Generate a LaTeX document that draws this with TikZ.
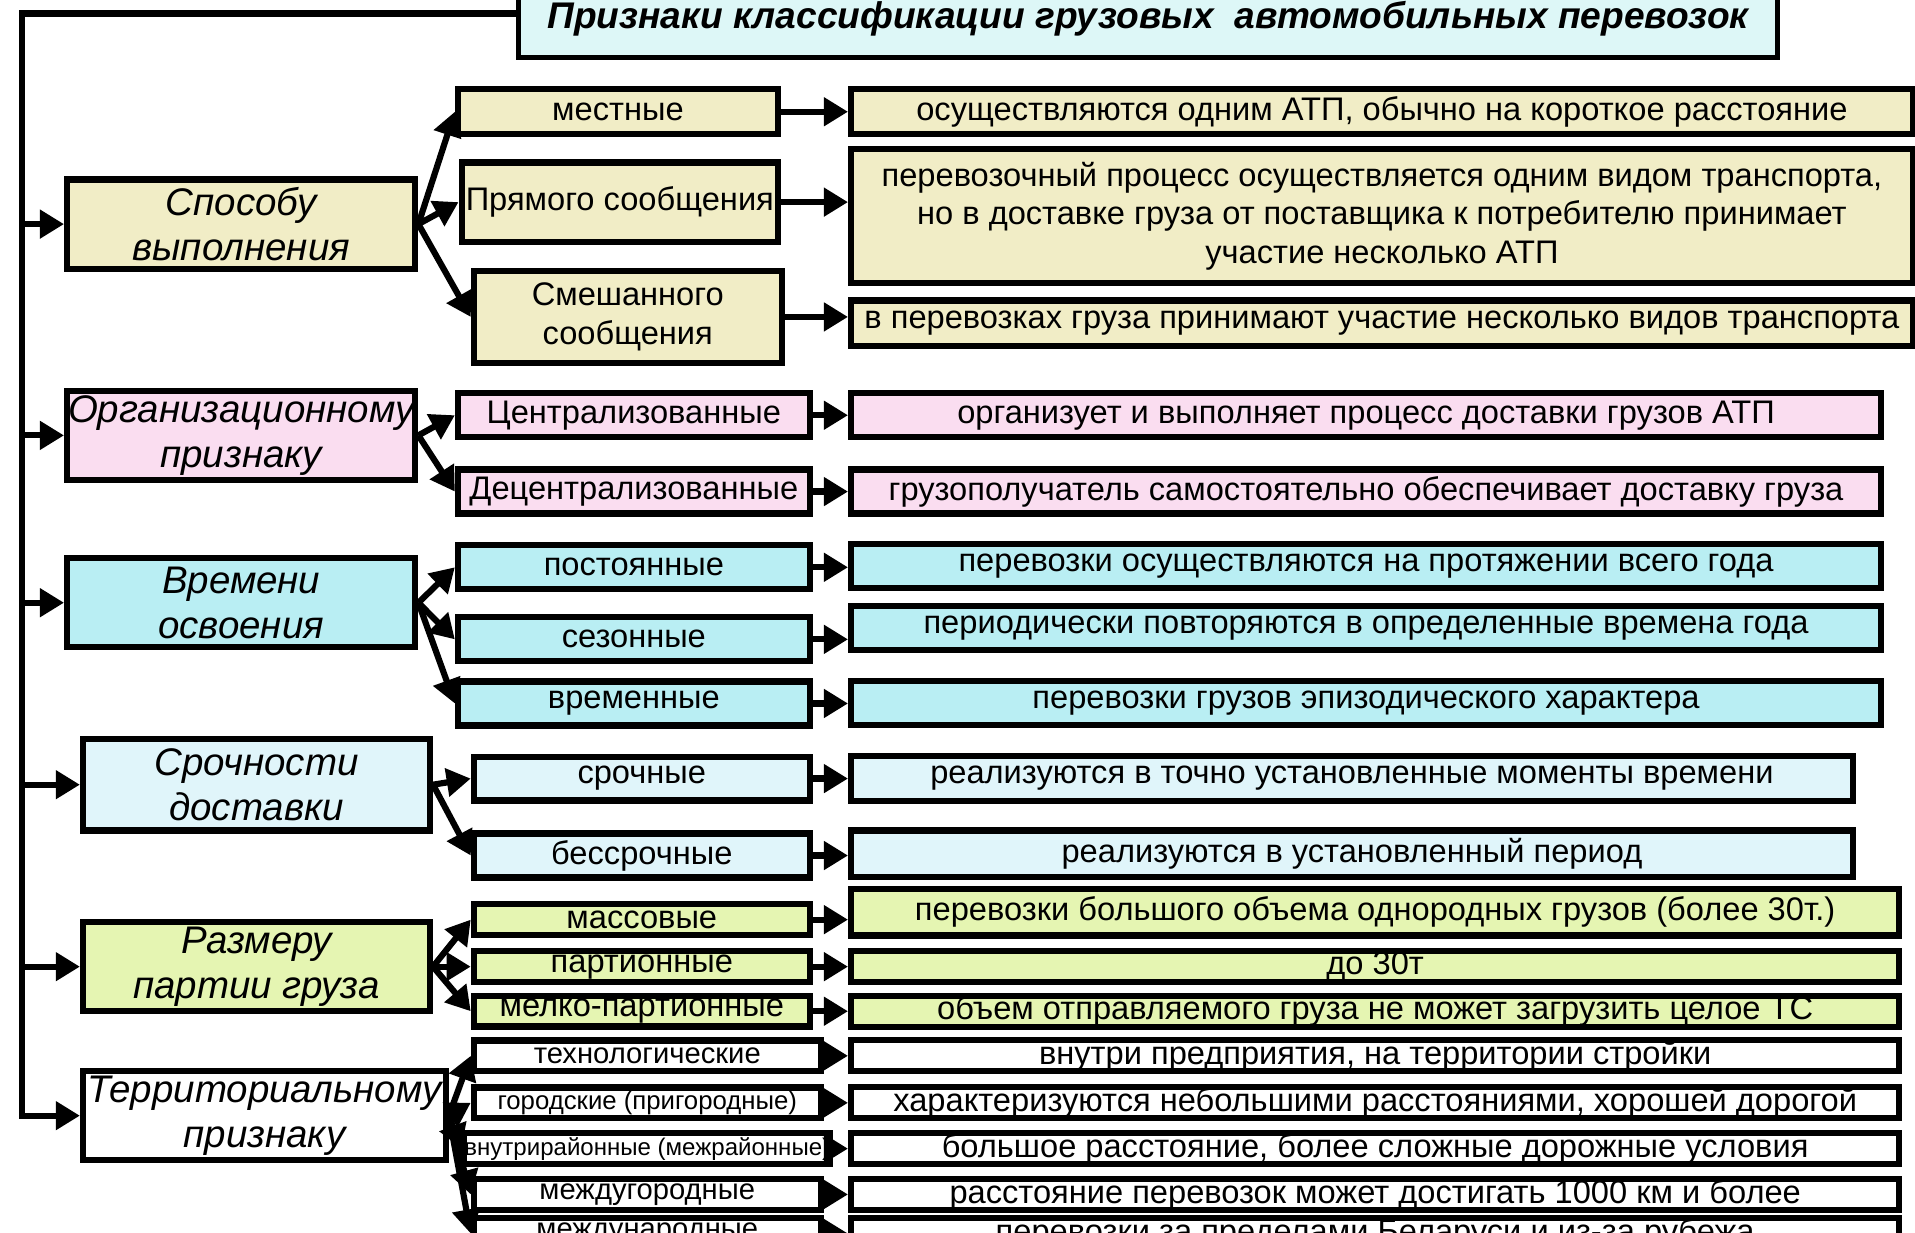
\documentclass[tikz,border=0pt]{standalone}
\usepackage{fontspec}
\setmainfont{Liberation Sans}
\usepackage{xcolor}
\usetikzlibrary{arrows.meta}

\definecolor{beige}{HTML}{F1EDC6}
\definecolor{pinkish}{HTML}{FADDF0}
\definecolor{cyanish}{HTML}{B9EEF3}
\definecolor{palecyan}{HTML}{E0F5FA}
\definecolor{lime}{HTML}{E5F5B2}
\definecolor{titlecyan}{HTML}{DDF7F7}

\begin{document}
\begin{tikzpicture}[x=0.0125cm, y=-0.0125cm,
  box/.style={draw, line width=1.8pt, inner sep=0pt, align=center, font=\fontsize{9.5}{11.2}\selectfont},
  catbox/.style={box, minimum width=3.5625cm, minimum height=0.9125cm, font=\fontsize{11.2}{13}\selectfont\itshape},
  subbox/.style={box, minimum height=0.45cm},
  thinbox/.style={box, minimum height=0.3125cm},
  arr/.style={line width=1.8pt, -{Triangle[length=7pt,width=8pt]}}]
  \path[use as bounding box, clip] (0,0) rectangle (1568,1009);

  \node[box, line width=1.5pt, fill=titlecyan, minimum width=12.875cm, minimum height=0.8cm, font=\fontsize{10.8}{12}\selectfont\bfseries\itshape] (title) at (940,15) {Признаки классификации грузовых\ \ автомобильных перевозок};
  \coordinate (bus) at (18,11);

  \node[catbox, fill=beige] (c1) at (197.5,183.5) {Способу\\выполнения};
  \node[catbox, fill=pinkish] (c2) at (197.5,356.5) {Организационному\\признаку};
  \node[catbox, fill=cyanish] (c3) at (197.5,493.5) {Времени\\освоения};
  \node[catbox, fill=palecyan, minimum width=3.55cm, minimum height=0.9375cm] (c4) at (210,642.5) {Срочности\\доставки};
  \node[catbox, fill=lime, minimum width=3.55cm] (c5) at (210,791.5) {Размеру\\партии груза};
  \node[catbox, fill=white, minimum width=3.7125cm] (c6) at (216.5,913.5) {Территориальному\\признаку};

  \node[subbox, fill=beige, minimum width=3.275cm, minimum height=0.4625cm] (s11) at (506,91.5) {местные};
  \node[subbox, fill=beige, minimum width=3.2375cm, minimum height=0.8125cm] (s12) at (507.5,165.5) {Прямого сообщения};
  \node[subbox, fill=beige, minimum width=3.15cm, minimum height=0.9375cm] (s13) at (514,259.5) {Смешанного\\сообщения};
  \node[subbox, fill=pinkish, minimum width=3.6cm] (s21) at (519,340) {Централизованные};
  \node[subbox, fill=pinkish, minimum width=3.6cm] (s22) at (519,402.5) {Децентрализованные};
  \node[subbox, fill=cyanish, minimum width=3.6cm] (s31) at (519,464.5) {постоянные};
  \node[subbox, fill=cyanish, minimum width=3.6cm] (s32) at (519,523.5) {сезонные};
  \node[subbox, fill=cyanish, minimum width=3.6cm] (s33) at (519,576) {временные};
  \node[subbox, fill=palecyan, minimum width=3.4375cm] (s41) at (525.5,637.5) {срочные};
  \node[subbox, fill=palecyan, minimum width=3.4375cm] (s42) at (525.5,700.5) {бессрочные};
  \node[thinbox, fill=lime, minimum width=3.4375cm] (s51) at (525.5,753) {массовые};
  \node[thinbox, fill=lime, minimum width=3.4375cm] (s52) at (525.5,791.5) {партионные};
  \node[thinbox, fill=lime, minimum width=3.4375cm] (s53) at (525.5,828) {мелко-партионные};
  \node[thinbox, fill=white, minimum width=3.55cm, font=\fontsize{8.5}{9}\selectfont] (s61) at (530,864.5) {технологические};
  \node[thinbox, fill=white, minimum width=3.55cm, font=\fontsize{7.5}{8}\selectfont] (s62) at (530,903) {городские (пригородные)};
  \node[thinbox, fill=white, minimum width=3.55cm, font=\fontsize{7}{8}\selectfont] (s63) at (530,940.5) {внутрирайонные (межрайонные)};
  \node[thinbox, fill=white, minimum width=3.55cm, font=\fontsize{8.5}{9}\selectfont] (s64) at (530,978) {междугородные};
  \node[thinbox, fill=white, minimum width=3.55cm, font=\fontsize{8.5}{9}\selectfont] (s65) at (530,1010) {международные};

  \node[subbox, fill=beige, minimum width=10.8625cm, minimum height=0.4625cm] (d11) at (1131.5,91.5) {осуществляются одним АТП, обычно на короткое расстояние};
  \node[subbox, fill=beige, minimum width=10.8625cm, minimum height=1.375cm] (d12) at (1131.5,177) {перевозочный процесс осуществляется одним видом транспорта,\\но в доставке груза от поставщика к потребителю принимает\\участие несколько АТП};
  \node[subbox, fill=beige, minimum width=10.8625cm, minimum height=0.4625cm] (d13) at (1131.5,264.5) {в перевозках груза принимают участие несколько видов транспорта};
  \node[subbox, fill=pinkish, minimum width=10.5375cm] (d21) at (1118.5,340) {организует и выполняет процесс доставки грузов АТП};
  \node[subbox, fill=pinkish, minimum width=10.5375cm] (d22) at (1118.5,402.5) {грузополучатель самостоятельно обеспечивает доставку груза};
  \node[subbox, fill=cyanish, minimum width=10.5375cm] (d31) at (1118.5,463.5) {перевозки осуществляются на протяжении всего года};
  \node[subbox, fill=cyanish, minimum width=10.5375cm] (d32) at (1118.5,514) {периодически повторяются в определенные времена года};
  \node[subbox, fill=cyanish, minimum width=10.5375cm] (d33) at (1118.5,575.5) {перевозки грузов эпизодического характера};
  \node[subbox, fill=palecyan, minimum width=10.25cm, minimum height=0.4625cm] (d41) at (1107,637.5) {реализуются в точно установленные моменты времени};
  \node[subbox, fill=palecyan, minimum width=10.25cm, minimum height=0.475cm] (d42) at (1107,699) {реализуются в установленный период};
  \node[subbox, fill=lime, minimum width=10.725cm, minimum height=0.475cm] (d51) at (1126,747) {перевозки большого объема однородных грузов (более 30т.)};
  \node[thinbox, fill=lime, minimum width=10.725cm] (d52) at (1126,791.5) {до 30т};
  \node[thinbox, fill=lime, minimum width=10.725cm] (d53) at (1126,828) {объем отправляемого груза не может загрузить целое ТС};
  \node[thinbox, fill=white, minimum width=10.725cm] (d61) at (1126,864.5) {внутри предприятия, на территории стройки};
  \node[thinbox, fill=white, minimum width=10.725cm] (d62) at (1126,903) {характеризуются небольшими расстояниями, хорошей дорогой};
  \node[thinbox, fill=white, minimum width=10.725cm] (d63) at (1126,940.5) {большое расстояние, более сложные дорожные условия};
  \node[thinbox, fill=white, minimum width=10.725cm] (d64) at (1126,978) {расстояние перевозок может достигать 1000 км и более};
  \node[thinbox, fill=white, minimum width=10.725cm] (d65) at (1126,1010) {перевозки за пределами Беларуси и из-за рубежа};

  \draw[arr] (title.west |- bus) -| (bus |- c6.west) -- (c6.west);
  \draw[arr] (bus |- c1.west) -- (c1.west);
  \draw[arr] (bus |- c2.west) -- (c2.west);
  \draw[arr] (bus |- c3.west) -- (c3.west);
  \draw[arr] (bus |- c4.west) -- (c4.west);
  \draw[arr] (bus |- c5.west) -- (c5.west);

  \draw[arr] (c1.east) -- (s11.west);
  \draw[arr] (c1.east) -- (s12.west);
  \draw[arr] (c1.east) -- (s13.west);
  \draw[arr] (c2.east) -- (s21.west);
  \draw[arr] (c2.east) -- (s22.west);
  \draw[arr] (c3.east) -- (s31.west);
  \draw[arr] (c3.east) -- (s32.west);
  \draw[arr] (c3.east) -- (s33.west);
  \draw[arr] (c4.east) -- (s41.west);
  \draw[arr] (c4.east) -- (s42.west);
  \draw[arr] (c5.east) -- (s51.west);
  \draw[arr] (c5.east) -- (s52.west);
  \draw[arr] (c5.east) -- (s53.west);
  \draw[arr] (c6.east) -- (s61.west);
  \draw[arr] (c6.east) -- (s62.west);
  \draw[arr] (c6.east) -- (s63.west);
  \draw[arr] (c6.east) -- (s64.west);
  \draw[arr] (c6.east) -- (s65.west);

  \draw[arr] (s11.east) -- (s11.east -| d11.west);
  \draw[arr] (s12.east) -- (s12.east -| d12.west);
  \draw[arr] (s13.east) -- (s13.east -| d13.west);
  \draw[arr] (s21.east) -- (s21.east -| d21.west);
  \draw[arr] (s22.east) -- (s22.east -| d22.west);
  \draw[arr] (s31.east) -- (s31.east -| d31.west);
  \draw[arr] (s32.east) -- (s32.east -| d32.west);
  \draw[arr] (s33.east) -- (s33.east -| d33.west);
  \draw[arr] (s41.east) -- (s41.east -| d41.west);
  \draw[arr] (s42.east) -- (s42.east -| d42.west);
  \draw[arr] (s51.east) -- (s51.east -| d51.west);
  \draw[arr] (s52.east) -- (s52.east -| d52.west);
  \draw[arr] (s53.east) -- (s53.east -| d53.west);
  \draw[arr] (s61.east) -- (s61.east -| d61.west);
  \draw[arr] (s62.east) -- (s62.east -| d62.west);
  \draw[arr] (s63.east) -- (s63.east -| d63.west);
  \draw[arr] (s64.east) -- (s64.east -| d64.west);
  \draw[arr] (s65.east) -- (s65.east -| d65.west);
\end{tikzpicture}
\end{document}
